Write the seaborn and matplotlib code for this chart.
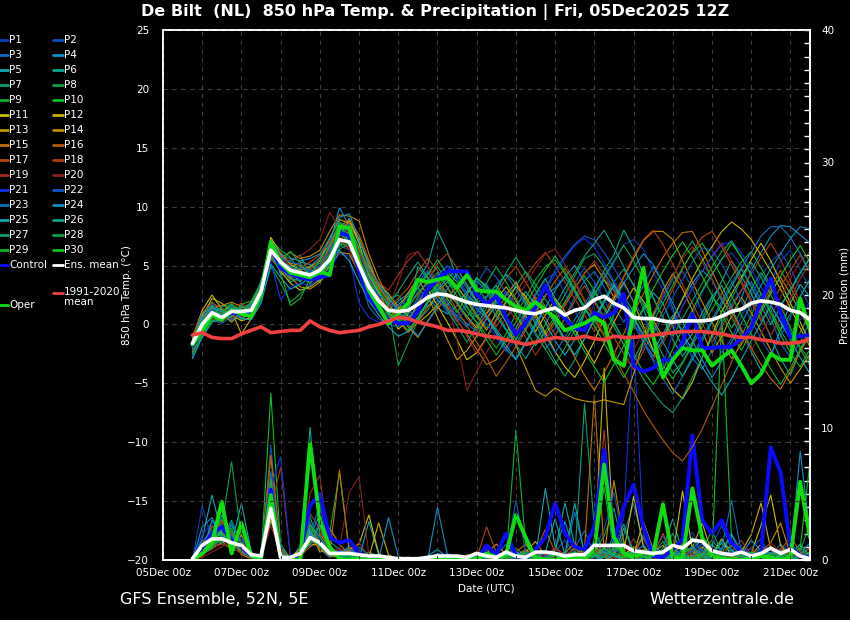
import matplotlib
matplotlib.use("Agg")
import matplotlib.pyplot as plt
from matplotlib.lines import Line2D
import seaborn as sns
import numpy as np
import pandas as pd

sns.set_theme(style="dark")
plt.rcParams['font.family'] = ['DejaVu Sans']

# forecast lead times (6-hourly from 05Dec2025 12Z), x in days since 05Dec 00z
lead_hours = np.arange(6, 385, 6)
days = 0.5 + lead_hours / 24.0

date_labels = ["05Dec 00z", "07Dec 00z", "09Dec 00z", "11Dec 00z", "13Dec 00z",
               "15Dec 00z", "17Dec 00z", "19Dec 00z", "21Dec 00z"]

# ---------------- 850 hPa temperature (°C) ----------------
temp_p01 = [-2.2, -0.5, 0.8, 0.3, 1.4, 0.9, 1.0, 3.1, 6.0, 5.6, 4.1, 3.8, 4.4, 5.0, 6.2, 7.8,
            7.4, 4.6, 2.5, 1.1, 0.4, 0.2, 1.5, 2.8, 3.4, 2.2, 1.0, 0.2, 1.6, 2.9, 3.5, 2.1,
            0.5, -0.8, 0.6, 2.4, 3.8, 4.4, 2.6, 1.2, -0.5, 1.8, 3.9, 5.2, 6.8, 7.2, 6.4, 4.5,
            2.9, 1.1, -0.6, 0.8, 2.7, 4.2, 5.6, 6.1, 5.0, 3.2, 1.8, 3.5, 5.4, 6.3, 4.7, 2.9]
temp_p02 = [-1.4, 0.6, 1.5, 0.9, 1.0, 1.6, 1.2, 2.5, 6.6, 5.2, 5.0, 4.7, 3.8, 4.2, 5.1, 6.8,
            6.3, 5.5, 3.9, 2.4, 0.9, 0.5, 0.8, 2.0, 3.1, 4.2, 5.0, 4.3, 2.6, 1.5, 0.9, 1.8,
            2.6, 3.4, 2.0, 0.3, -1.2, -0.4, 1.9, 3.5, 4.8, 3.6, 2.2, 0.4, -1.8, -3.1, -2.0, 0.6,
            2.2, 3.8, 4.5, 3.1, 1.0, -0.9, -2.4, -1.2, 0.7, 2.4, 4.1, 5.3, 6.1, 4.8, 3.0, 1.6]
temp_p03 = [-2.6, -0.8, 0.4, 0.1, 0.7, 1.3, 0.9, 2.2, 5.5, 4.8, 3.9, 4.9, 4.6, 4.0, 4.9, 6.6,
            7.9, 6.2, 4.0, 2.6, 1.8, 0.7, 0.2, 0.9, 1.6, 2.0, 1.4, 0.8, 0.1, -0.6, 0.5, 1.9,
            2.8, 1.7, 0.4, -0.9, -2.1, -1.0, 0.6, 2.3, 3.7, 4.5, 3.2, 1.5, 0.2, 1.6, 3.3, 4.9,
            3.6, 1.4, -0.8, -2.9, -3.8, -2.2, 0.1, 1.7, 2.9, 3.6, 2.1, 0.5, -1.6, -2.8, -1.5, 0.3]
temp_p04 = [-1.9, 0.2, 1.2, 1.4, 0.5, 0.8, 1.7, 3.4, 6.9, 4.2, 4.5, 3.6, 4.9, 5.7, 6.8, 9.9,
            8.4, 5.2, 3.0, 1.7, 1.2, 2.0, 2.6, 3.1, 2.2, 1.4, 0.9, 1.6, 2.8, 3.7, 2.9, 1.1,
            -0.4, -1.6, -0.3, 1.2, 2.5, 3.1, 4.0, 2.7, 1.3, 0.2, 1.9, 3.4, 2.0, 0.8, -1.4, -2.7,
            -1.3, 0.4, 2.1, 3.5, 4.6, 3.8, 2.0, 0.9, 2.2, 4.6, 6.1, 7.5, 8.4, 8.3, 7.6, 6.9]
temp_p05 = [-2.3, -0.2, 0.6, 1.1, 1.5, 0.6, 0.9, 2.7, 6.2, 5.9, 4.8, 5.3, 5.1, 4.4, 5.8, 7.5,
            9.0, 7.1, 5.3, 3.3, 2.1, 1.4, 1.8, 3.2, 4.4, 3.6, 2.5, 1.9, 2.7, 3.9, 3.3, 2.0,
            0.6, 1.5, 2.8, 1.7, 0.2, -1.4, -2.6, -1.3, 0.9, 2.6, 3.8, 2.9, 1.6, 0.1, 1.2, 2.7,
            1.8, -0.2, -1.9, -0.8, 1.0, 2.4, 3.3, 1.5, -0.6, -2.3, -3.9, -2.6, -0.4, 1.8, 3.4, 2.3]
temp_p06 = [-1.2, 0.5, 1.3, 0.4, 0.9, 1.4, 1.5, 3.0, 6.8, 5.0, 3.6, 4.0, 3.5, 4.8, 6.0, 8.1,
            7.7, 4.2, 2.1, 1.3, 0.8, 1.7, 2.4, 3.8, 5.1, 8.0, 6.2, 3.9, 2.4, 1.3, 0.6, -0.4,
            -1.5, -0.3, 1.1, 2.6, 3.9, 2.2, 0.8, -0.6, 1.1, 3.0, 4.6, 5.9, 8.0, 6.5, 4.2, 2.3,
            0.6, -1.3, -2.7, -1.5, 0.2, 1.9, 3.7, 5.4, 4.1, 2.6, 0.9, -1.1, -2.9, -4.3, -2.2, -0.8]
temp_p07 = [-1.7, 0.8, 1.9, 1.0, 1.2, 0.4, 1.1, 2.4, 5.8, 5.5, 5.4, 5.9, 4.1, 3.6, 4.5, 6.9,
            7.2, 5.9, 4.4, 3.0, 2.2, 2.5, 1.3, 0.4, 1.2, 2.7, 3.6, 2.9, 1.4, 0.6, 1.7, 3.0,
            4.3, 3.5, 1.8, 0.0, -1.6, -3.1, -4.4, -3.0, -1.2, 0.5, 2.1, 3.6, 4.7, 3.4, 1.3, -0.9,
            -2.6, -4.1, -3.2, -1.6, 0.5, 2.3, 1.4, -0.3, 1.2, 3.0, 4.4, 3.1, 1.7, 2.8, 4.3, 5.6]
temp_p08 = [-2.8, -0.9, 0.3, 0.9, 1.8, 1.0, 0.5, 1.9, 4.9, 3.5, 1.9, 2.6, 3.4, 4.6, 5.6, 6.4,
            6.8, 4.8, 3.6, 2.8, 1.5, -3.5, -1.6, 0.4, 1.9, 3.2, 4.1, 3.0, 2.2, 0.9, -0.3, 0.8,
            2.0, 3.3, 4.5, 3.4, 2.1, 1.0, 2.5, 4.1, 5.6, 6.0, 4.9, 3.5, 2.0, 0.5, -0.8, 0.7,
            2.5, 4.0, 5.8, 7.1, 5.6, 3.9, 2.2, 0.6, -1.0, 0.8, 2.6, 1.3, -0.5, -1.9, -0.7, 1.0]
temp_p09 = [-2.0, 0.0, 1.1, 0.7, 0.6, 1.7, 2.0, 3.6, 7.2, 6.3, 5.7, 4.4, 3.9, 4.5, 5.3, 7.0,
            6.6, 4.9, 3.3, 1.9, 0.3, 0.0, 0.9, 2.3, 3.8, 4.9, 3.7, 2.4, 1.1, 0.2, -0.9, -2.0,
            -0.8, 0.9, 2.3, 3.8, 4.9, 5.5, 4.3, 2.9, 1.5, 0.3, -0.9, 0.8, 2.4, 1.1, -0.4, -2.1,
            -3.5, -4.6, -3.3, -1.8, -0.2, 1.3, 2.6, 4.0, 5.3, 6.2, 4.8, 3.3, 1.6, -0.3, -1.9, -3.1]
temp_p10 = [-1.5, 0.4, 0.9, 1.2, 1.6, 1.2, 0.8, 2.0, 6.4, 5.8, 4.3, 4.1, 4.7, 5.2, 6.5, 8.6,
            8.0, 6.5, 4.6, 2.9, 1.6, 0.9, 0.4, 1.2, 2.4, 3.5, 4.5, 3.6, 2.5, 1.8, 2.4, 3.3,
            2.1, 0.8, -0.5, -1.8, -0.6, 0.7, 1.9, 3.2, 4.1, 2.9, 1.5, 0.1, -1.2, -2.6, -4.0, -5.1,
            -3.8, -2.1, -0.4, 1.2, 2.9, 4.3, 5.5, 6.9, 5.7, 4.2, 2.6, 0.9, -0.9, -2.4, -3.6, -2.1]
temp_p11 = [-1.1, 1.2, 2.5, 1.3, 0.8, 0.3, 0.6, 2.1, 6.1, 4.5, 3.5, 2.9, 3.2, 3.8, 5.6, 7.6,
            8.8, 6.9, 4.2, 2.7, 1.1, -0.4, 0.3, 1.8, 3.0, 1.6, 0.2, -1.3, -3.0, -2.4, -1.1, 0.4,
            1.9, 3.2, 2.4, 0.9, -0.7, -2.3, -3.6, -4.5, -3.1, -1.4, 0.5, 2.2, 3.6, 1.9, -0.1, -2.2,
            -4.0, -5.5, -6.3, -4.9, -2.8, -0.9, 1.1, 2.6, 4.0, 5.5, 6.9, 5.4, 3.6, 1.8, 0.2, -1.6]
temp_p12 = [-1.8, 0.7, 2.2, 1.8, 1.1, -0.8, 0.5, 2.6, 7.4, 6.0, 5.1, 4.6, 4.9, 5.4, 7.3, 8.9,
            8.6, 7.3, 5.0, 3.5, 2.6, 1.5, 0.7, 0.1, 0.8, 1.7, 2.6, 1.8, 0.7, -0.3, 0.9, 2.1,
            3.2, 2.0, 0.7, -0.6, 0.8, 2.2, 1.1, -0.4, -1.9, -3.3, -1.6, 0.2, 1.7, 3.1, 2.0, 0.4,
            -1.1, 0.5, 2.2, 3.9, 5.4, 6.6, 7.9, 8.7, 8.1, 7.2, 5.9, 4.5, 3.0, 1.4, -0.3, -1.9]
temp_p13 = [-2.4, 0.3, 1.6, 0.8, 0.2, 1.0, 1.4, 2.9, 6.5, 5.4, 4.0, 3.2, 3.0, 3.6, 5.0, 6.1,
            6.0, 4.4, 2.8, 1.4, 0.6, 1.3, 2.7, 3.9, 2.4, 0.6, -1.3, -3.0, -2.2, -1.0, 0.5, 1.6,
            0.2, -1.8, -3.7, -5.6, -6.1, -5.4, -5.9, -6.3, -6.5, -6.6, -6.4, -6.6, -6.8, -4.2, -1.5, 0.8,
            2.9, 4.3, 3.0, 1.2, -0.6, -2.4, -1.0, 0.7, 2.3, 1.0, -0.6, -2.2, -3.7, -5.0, -3.8, -2.5]
temp_p14 = [-1.3, 0.9, 1.4, 1.6, 1.9, 1.5, 1.1, 2.3, 7.0, 5.7, 6.1, 5.6, 5.8, 6.3, 7.9, 9.3,
            9.2, 8.8, 6.0, 3.9, 2.3, 1.2, -0.2, -1.1, 0.3, 1.4, 2.2, 3.3, 2.0, 0.7, -0.5, 1.0,
            2.5, 3.6, 2.1, 0.6, -0.9, 0.4, 1.6, 3.0, 4.4, 5.1, 3.8, 2.3, 4.0, 5.6, 7.1, 7.9,
            7.9, 7.2, 5.4, 3.6, 1.9, 0.2, -1.4, -2.9, -1.7, -0.2, 1.3, 2.8, 4.0, 2.6, 1.1, -0.5]
temp_p15 = [-2.1, -0.3, 1.0, 0.5, 1.3, 0.7, 0.8, 2.4, 6.7, 6.1, 5.2, 5.0, 4.3, 4.9, 6.6, 8.3,
            8.9, 7.6, 5.5, 3.2, 1.9, 0.3, -0.7, 0.2, 1.5, 2.4, 1.5, 0.3, -0.8, -2.1, -3.4, -3.0,
            -2.0, -0.7, 0.9, 2.3, 1.4, 0.1, -1.3, -2.8, -4.3, -5.6, -4.1, -2.5, -0.8, 1.0, 2.6, 4.2,
            5.7, 6.9, 7.8, 7.9, 6.3, 4.5, 2.8, 1.1, -0.4, -2.0, -3.4, -4.6, -5.5, -4.0, -2.3, -0.9]
temp_p16 = [-1.6, 0.1, 0.7, 1.3, 1.0, 0.9, 1.6, 3.2, 6.3, 5.1, 4.7, 4.2, 4.0, 4.7, 6.4, 8.0,
            8.7, 6.3, 4.8, 3.1, 2.0, 1.6, 1.0, 1.9, 2.9, 3.8, 2.6, 1.2, -0.1, -1.5, -2.8, -4.4,
            -3.2, -1.9, -0.5, 1.0, 2.4, 3.7, 4.8, 3.5, 2.0, 0.5, -1.0, -2.6, -4.2, -5.7, -7.3, -8.6,
            -9.8, -10.9, -11.6, -10.4, -8.9, -7.0, -5.1, -3.2, -1.4, 0.2, 1.7, 3.1, 4.6, 3.2, 1.5, -0.1]
temp_p17 = [-1.0, 1.0, 1.8, 1.4, 0.6, 1.1, 1.3, 2.6, 5.9, 4.9, 4.4, 4.8, 5.3, 5.9, 7.0, 8.4,
            7.8, 5.7, 3.8, 2.3, 1.4, 2.2, 3.1, 4.5, 5.6, 4.6, 3.1, 1.7, 0.5, -0.5, 1.0, 2.6,
            3.9, 4.9, 3.6, 2.1, 0.6, -0.9, 0.5, 2.0, 3.3, 1.9, 0.4, -1.1, -2.5, -3.8, -2.3, -0.6,
            1.2, 3.0, 4.7, 6.2, 7.4, 7.9, 6.6, 5.0, 3.5, 1.9, 0.3, 1.6, 3.2, 4.6, 5.9, 4.4]
temp_p18 = [-2.5, -0.6, 0.5, 0.2, 1.3, 1.8, 1.2, 2.1, 5.6, 4.6, 3.8, 4.3, 4.6, 5.6, 6.0, 7.1,
            6.4, 4.3, 2.4, 1.5, 0.6, 1.0, 1.6, 2.5, 3.7, 5.2, 6.0, 4.8, 3.3, 2.0, 0.8, -0.2,
            1.1, 2.7, 4.0, 5.2, 6.1, 5.0, 3.6, 2.2, 0.8, -0.6, 0.9, 2.5, 4.1, 5.8, 7.2, 8.0,
            6.8, 5.1, 3.4, 1.8, 0.1, -1.5, -0.2, 1.4, 2.9, 4.3, 5.7, 6.9, 5.5, 3.7, 1.9, 0.2]
temp_p19 = [-1.9, 0.3, 1.2, 0.6, 0.4, 1.3, 1.9, 3.3, 6.8, 5.8, 4.9, 3.9, 3.7, 4.3, 5.9, 7.3,
            7.5, 6.0, 4.5, 3.6, 2.9, 4.2, 5.4, 6.2, 4.9, 3.3, 1.8, 0.4, -1.0, -2.5, -1.2, 0.3,
            1.6, 0.4, -1.1, -2.6, -1.3, 0.2, 1.7, 3.0, 4.3, 5.4, 4.2, 2.8, 1.4, 0.0, -1.4, -2.9,
            -1.6, 0.0, 1.5, 3.0, 4.5, 5.8, 6.9, 5.4, 3.7, 2.1, 0.5, -0.9, 0.6, 2.2, 3.9, 5.2]
temp_p20 = [-2.2, 0.0, 0.9, 1.0, 0.9, 0.6, 1.4, 2.8, 6.0, 5.3, 5.5, 5.8, 6.4, 7.2, 9.5, 8.2,
            6.5, 4.9, 3.1, 2.0, 1.3, 3.6, 5.9, 6.2, 5.0, 3.7, 2.1, -1.4, -5.6, -4.0, -2.4, -0.9,
            0.6, 2.0, 3.4, 4.8, 6.0, 6.4, 5.1, 3.7, 2.2, 0.7, -0.8, -2.3, -3.7, -2.2, -0.6, 1.0,
            2.5, 4.1, 5.6, 6.6, 5.3, 3.8, 2.3, 0.8, -0.7, -2.2, -0.8, 0.7, 2.3, 3.9, 5.3, 6.2]
temp_p21 = [-2.7, -0.4, 0.6, 0.9, 1.0, 1.2, 0.7, 2.0, 5.3, 2.1, 3.2, 3.5, 3.3, 3.9, 4.7, 6.0,
            5.8, 1.8, 0.6, 0.2, 0.3, 0.6, 1.2, 2.1, 3.2, 4.1, 4.9, 3.8, 2.5, 1.3, 0.1, -1.1,
            -2.3, -1.2, 0.2, 1.7, 3.0, 4.2, 5.6, 6.7, 7.3, 6.6, 5.2, 3.7, 2.2, 0.5, -1.4, -3.0,
            -3.5, -0.7, 1.6, 3.1, 4.5, 5.7, 6.8, 7.0, 6.1, 4.7, 3.2, 1.7, 0.3, -1.1, 0.4, 2.0]
temp_p22 = [-1.5, 0.5, 1.7, 0.8, 1.5, 0.9, 1.0, 2.9, 6.6, 5.6, 5.3, 5.1, 4.5, 5.0, 6.3, 7.9,
            8.1, 5.4, 3.4, 2.5, 1.8, 1.5, 2.2, 3.5, 4.6, 3.1, 1.9, 0.7, 1.8, 3.4, 4.8, 4.0,
            2.7, 1.3, 0.0, 1.5, 3.0, 4.6, 5.8, 6.8, 7.5, 7.2, 6.1, 4.8, 3.4, 2.0, 0.6, -0.8,
            0.7, 2.3, 3.8, 5.3, 6.5, 6.3, 5.1, 3.6, 2.0, 0.4, -1.2, -2.6, -1.0, 0.6, 2.3, 3.9]
temp_p23 = [-2.0, 0.1, 1.3, 0.5, 0.9, 1.5, 1.6, 3.0, 6.4, 4.9, 4.6, 4.8, 4.4, 4.6, 5.4, 7.4,
            8.5, 4.3, 1.5, 0.5, 0.0, -0.2, 0.6, 1.4, 2.6, 2.1, 1.3, 0.6, -0.2, 1.0, 2.3, 3.4,
            4.2, 3.0, 1.6, 0.3, -1.0, -2.4, -1.1, 0.4, 1.7, 3.2, 4.4, 3.1, 1.6, 0.1, -1.5, -3.1,
            -4.6, -5.9, -4.4, -2.7, -1.1, 0.4, 2.0, 3.5, 4.8, 6.1, 7.5, 8.3, 8.3, 7.4, 6.0, 4.5]
temp_p24 = [-1.7, 0.6, 1.4, 1.1, 0.3, 1.0, 1.8, 3.5, 7.1, 5.9, 5.6, 5.4, 5.6, 6.0, 7.3, 9.1,
            9.4, 7.2, 4.9, 3.4, 2.4, 1.1, 0.0, -1.0, 0.2, 1.6, 3.0, 4.3, 3.1, 1.9, 0.6, -0.8,
            -2.1, -3.0, -1.6, -0.1, 1.4, 2.9, 4.1, 5.0, 3.6, 2.1, 0.6, 1.9, 3.5, 4.8, 6.0, 5.1,
            3.5, 1.8, 0.2, -1.4, -3.0, -4.5, -3.1, -1.5, 0.1, 1.7, 3.3, 4.7, 6.0, 7.3, 8.3, 8.1]
temp_p25 = [-2.9, -1.1, 0.2, 0.4, 1.2, 0.5, 0.4, 1.8, 5.1, 4.0, 3.0, 3.4, 4.0, 4.4, 5.2, 6.3,
            5.4, 3.6, 2.0, 0.8, -0.2, -1.0, -0.6, 0.5, 1.8, 2.9, 3.9, 4.7, 3.4, 2.0, 0.7, -0.6,
            -1.8, -2.9, -1.5, 0.1, 1.5, 0.2, -1.2, -2.6, -1.2, 0.4, 1.9, 3.3, 2.0, 0.6, -0.9, -2.3,
            -0.8, 0.8, -0.7, -2.2, -3.6, -4.9, -6.0, -4.6, -3.0, -1.4, 0.1, 1.6, 0.2, -1.3, -2.8, -4.2]
temp_p26 = [-1.4, 0.9, 1.6, 0.6, 1.4, 1.3, 0.6, 2.2, 6.2, 5.3, 4.9, 4.5, 4.3, 4.8, 5.7, 7.7,
            7.1, 5.1, 3.5, 2.1, 0.9, 0.3, 1.0, 4.9, 3.9, 2.8, 1.6, 2.9, 4.4, 3.3, 2.0, 0.7,
            -0.5, -1.7, -2.9, -1.5, 0.0, 1.6, 3.1, 4.4, 5.8, 6.9, 8.0, 6.5, 4.9, 3.3, 1.7, 0.1,
            -1.5, -3.0, -4.4, -3.0, -1.4, 0.2, 1.7, 3.2, 4.7, 3.2, 1.6, 0.0, 1.5, 3.0, 4.4, 5.7]
temp_p27 = [-2.1, -0.1, 0.8, 1.5, 1.7, 0.8, 1.3, 2.7, 5.7, 4.7, 3.9, 3.7, 4.2, 5.5, 6.7, 8.7,
            8.2, 6.6, 4.3, 2.8, 1.7, 2.8, 4.1, 5.3, 4.0, 2.6, 1.2, -0.1, -1.5, -0.1, 1.4, 2.9,
            4.4, 5.7, 4.4, 2.9, 1.5, 0.0, -1.4, -0.1, 1.4, 2.8, 1.3, -0.2, -1.7, -3.2, -4.6, -5.8,
            -6.8, -7.5, -6.2, -4.5, -2.8, -1.1, 0.6, 2.2, 3.8, 5.3, 4.0, 2.5, 0.9, -0.6, -2.1, -3.5]
temp_p28 = [-1.8, 0.4, 1.0, 1.3, 0.7, 1.1, 1.5, 3.7, 6.5, 5.5, 6.2, 5.2, 4.0, 4.1, 5.5, 8.2,
            7.6, 5.6, 3.7, 2.2, 0.7, 0.1, 1.4, 2.7, 3.5, 4.4, 3.2, 1.9, 0.6, 2.0, 3.5, 4.9,
            3.6, 2.2, 0.8, -0.7, -2.1, -3.4, -2.0, -0.5, 1.0, 2.5, 4.0, 5.4, 6.7, 5.4, 3.8, 2.2,
            0.6, -1.0, 0.5, 2.0, 3.5, 4.9, 6.2, 7.1, 5.7, 4.2, 2.6, 1.0, -0.5, 0.9, 2.4, 3.8]
temp_p29 = [-2.5, -0.7, 0.3, 0.6, 1.1, 1.6, 1.0, 2.3, 5.9, 4.4, 1.6, 2.2, 3.9, 4.3, 5.0, 6.7,
            6.9, 4.5, 2.7, 1.2, 0.1, 0.8, 1.9, 3.1, 4.2, 5.5, 4.3, 2.9, 1.5, 0.1, -1.3, -2.6,
            -1.3, 0.2, 1.7, 3.2, 4.6, 5.8, 4.5, 3.0, 1.5, -0.1, -1.6, -3.1, -4.5, -3.0, -1.4, 0.2,
            1.8, 3.3, 4.8, 6.1, 6.9, 5.6, 4.0, 2.4, 0.8, -0.8, -2.3, -3.8, -5.1, -3.7, -2.1, -0.5]
temp_p30 = [-1.2, 0.2, 1.1, 0.9, 1.3, 1.0, 1.9, 3.1, 6.7, 5.2, 4.2, 4.0, 3.6, 4.1, 5.9, 7.6,
            7.3, 5.3, 3.3, 1.9, 1.0, 0.4, -0.5, 0.6, 2.0, 3.4, 2.2, 1.0, 2.5, 4.0, 3.1, 1.6,
            0.2, -1.3, 0.2, 1.8, 3.3, 2.0, 0.6, -0.8, -2.3, -3.6, -4.9, -3.4, -1.8, -0.2, 1.4, 3.0,
            4.5, 5.9, 7.0, 5.7, 4.1, 2.5, 0.9, -0.7, -2.2, -0.6, 1.0, 2.6, 4.1, 5.5, 6.7, 5.3]

temp_control = [-1.8, -0.4, 1.0, 0.6, 1.0, 0.9, 1.0, 2.6, 6.5, 4.8, 4.3, 4.0, 3.8, 4.0, 4.2, 7.8,
                7.5, 4.5, 2.3, 1.3, 0.4, 0.1, 0.1, 1.1, 3.0, 3.8, 4.5, 4.5, 4.5, 2.6, 1.7, 2.4,
                0.6, -0.9, 0.1, 1.5, 3.3, 1.5, 0.5, -0.3, -0.5, 1.0, 0.6, 1.0, 2.6, -3.5, -4.0, -3.7,
                -3.0, -3.0, -1.5, 0.9, -2.0, -2.0, -1.9, -1.9, -1.2, -0.3, 2.0, 3.9, 1.0, -1.1, -1.0, -0.9]
temp_oper = [-1.7, -0.5, 0.8, 0.4, 1.2, 0.9, 0.7, 2.6, 7.0, 5.2, 4.4, 4.2, 4.0, 4.5, 4.2, 8.3,
             8.2, 5.2, 2.9, 1.5, 0.1, 0.9, 1.8, 3.8, 3.6, 3.8, 4.0, 3.1, 4.2, 2.9, 2.8, 2.8,
             2.1, 1.5, 1.2, 1.9, 1.2, 0.6, -0.5, -0.2, 0.1, 0.6, 0.1, -3.0, -3.5, 1.0, 4.8, -1.0,
             -4.5, -3.0, -2.0, -2.2, -2.2, -3.5, -2.8, -2.2, -3.5, -5.0, -4.2, -2.5, -3.0, -3.0, 2.2, -0.5]
temp_ens_mean = [-1.6, 0.0, 1.0, 0.6, 1.1, 1.1, 1.2, 2.8, 6.3, 5.3, 4.6, 4.4, 4.2, 4.6, 5.5, 7.2,
                 7.0, 5.0, 3.2, 2.0, 1.2, 1.1, 1.2, 1.7, 2.3, 2.6, 2.5, 2.2, 1.9, 1.7, 1.6, 1.5,
                 1.4, 1.2, 1.0, 0.9, 1.2, 1.4, 0.8, 1.2, 1.4, 2.1, 2.4, 1.8, 1.4, 0.6, 0.5, 0.5,
                 0.3, 0.2, 0.3, 0.3, 0.3, 0.4, 0.7, 1.1, 1.3, 1.8, 2.0, 1.9, 1.7, 1.2, 1.0, 0.4]
temp_clim = [-0.9, -0.7, -1.1, -1.2, -1.2, -0.8, -0.5, -0.2, -0.7, -0.6, -0.5, -0.5, 0.3, -0.2, -0.5, -0.7,
             -0.6, -0.5, -0.2, 0.0, 0.3, 0.6, 0.5, 0.2, 0.0, -0.2, -0.5, -0.5, -0.6, -0.8, -1.0, -1.1,
             -1.3, -1.5, -1.7, -1.5, -1.3, -1.1, -1.2, -1.2, -1.0, -1.2, -1.3, -1.0, -1.1, -1.1, -1.0, -0.9,
             -0.8, -0.7, -0.6, -0.6, -0.6, -0.7, -0.8, -1.0, -1.1, -1.1, -1.3, -1.4, -1.6, -1.6, -1.5, -1.2]

# ---------------- 6-hourly precipitation (mm) ----------------
prcp_p01 = [0, 4.1, 1.5, 2.2, 1.0, 0.6, 0.2, 0, 3.5, 0.8, 0, 0.4, 2.1, 1.3, 0.6, 0.9,
            0.3, 0.5, 0.2, 0, 0, 0, 0.1, 0, 0, 0.2, 0, 0, 0, 0.4, 0.2, 0,
            0.1, 0.6, 0.3, 0, 0.4, 0.9, 0.2, 0, 0, 0.3, 1.2, 0.5, 0, 0.8, 1.6, 0.4,
            0, 0.2, 0.9, 2.1, 0.7, 0, 0, 0.3, 1.1, 0.4, 0, 0, 0.6, 1.4, 0.3, 0]
prcp_p02 = [0, 1.2, 2.4, 3.1, 1.8, 0.9, 0.1, 0, 8.7, 0.4, 0, 0.6, 1.6, 2.2, 0.7, 0.3,
            1.1, 0.2, 0, 0, 0.1, 0, 0, 0, 0, 0, 0.5, 0.2, 0, 0, 0.8, 0.1,
            0.3, 0.5, 0, 0, 0.2, 0.6, 1.5, 0.4, 0, 0.9, 2.3, 5.1, 1.2, 0.2, 0, 0.6,
            1.8, 0.4, 0, 0, 0.3, 1.1, 2.6, 0.8, 0, 0, 0.2, 0.9, 0.3, 0, 0, 0.4]
prcp_p03 = [0.1, 0.6, 1.9, 2.7, 1.4, 1.2, 0.4, 0.1, 4.4, 0.2, 0, 1.1, 2.9, 0.8, 0.2, 0.4,
            0.6, 1.0, 0.3, 0, 0, 0.1, 0, 0, 0, 0.3, 0.2, 0, 0, 0, 0, 0.4,
            1.2, 0.3, 0, 0.2, 0.4, 0.1, 0, 0.9, 2.2, 0.4, 0, 0.3, 1.9, 4.3, 1.2, 0,
            0, 0.6, 1.4, 0.2, 0, 0, 0.5, 2.0, 0.6, 0, 0, 0.3, 1.2, 0.4, 0, 0]
prcp_p04 = [0, 2.5, 3.2, 1.8, 2.6, 1.4, 0.3, 0, 2.9, 1.2, 0.1, 0.2, 1.8, 3.4, 0.9, 0.5,
            0.2, 0.3, 0.6, 0.1, 0, 0, 0, 0.2, 0.1, 0.5, 0.3, 0, 0, 0, 0.1, 0,
            0, 0.2, 0.7, 0.3, 0, 0.8, 2.9, 0.6, 0.3, 0.7, 0.4, 1.8, 0.6, 0, 0.4, 1.1,
            0.5, 0, 0, 0.8, 1.6, 0.3, 0, 0, 0.4, 1.5, 0.7, 0, 0, 0.2, 8.2, 2.0]
prcp_p05 = [0, 1.6, 4.9, 2.0, 1.2, 4.3, 0.6, 0, 3.8, 0.5, 0, 0.3, 1.4, 2.6, 0.8, 0.2,
            0.4, 0.1, 2.9, 0.4, 0, 0.2, 0, 0, 0.3, 0.8, 0.2, 0, 0, 0, 0.4, 0.1,
            0, 0.3, 0.5, 0.2, 5.4, 1.0, 0.2, 0, 0.2, 1.4, 0.5, 0, 0.3, 0.9, 0.2, 0,
            0, 0.4, 1.2, 0.6, 0, 0, 0.8, 1.9, 0.5, 0, 0, 0.3, 0.8, 0.2, 0, 0]
prcp_p06 = [0, 0.4, 1.0, 3.4, 2.1, 0.8, 0.1, 0, 5.6, 0.7, 0.1, 0.6, 10.0, 1.9, 0.4, 0.6,
            0.9, 0.2, 0, 0, 0, 0, 0.1, 0, 0, 0, 0, 0.2, 0.1, 0, 0, 0.3,
            0.6, 0.2, 0, 0.1, 0.3, 0.7, 4.3, 1.1, 0.4, 0, 0.2, 1.0, 2.7, 0.6, 0, 0.2,
            0.9, 3.1, 0.6, 0, 0, 0.4, 1.3, 0.5, 0, 0.2, 0.6, 0, 0, 0.3, 1.2, 0.3]
prcp_p07 = [0, 0.9, 2.1, 1.5, 3.0, 1.1, 0.5, 0, 6.2, 0.3, 0, 0.2, 1.2, 1.8, 1.4, 0.8,
            0.5, 0.4, 0.2, 0, 0, 0, 0, 0.1, 0, 0.2, 0.1, 0, 0.3, 0.2, 0, 0,
            0, 0.1, 0.4, 0.2, 0, 0.3, 0.6, 0.2, 11.8, 2.4, 0.5, 0, 0.3, 0.9, 0.4, 0,
            0.2, 0.8, 0.3, 0, 0.5, 1.5, 0.6, 0, 0, 0.4, 0.9, 0.2, 0, 0, 0.3, 0.6]
prcp_p08 = [0, 0.3, 1.3, 2.6, 7.4, 1.6, 0.2, 0, 5.1, 0.6, 0, 0.4, 3.3, 1.0, 0.5, 0.2,
            0.3, 0.1, 0.6, 0.3, 0, 0, 0, 0, 0, 0.1, 0, 0, 0, 0, 0.2, 0,
            0.4, 0.9, 0.3, 0, 0.1, 0.4, 0.2, 0, 0, 0.6, 1.8, 3.9, 0.7, 0.1, 0, 0.5,
            1.4, 0.3, 0, 0.2, 0.8, 2.2, 0.6, 0, 0, 0, 0.3, 1.0, 0.4, 0, 0.7, 2.7]
prcp_p09 = [0, 1.0, 1.8, 2.3, 1.1, 0.9, 0.3, 0, 4.8, 0.2, 0, 0.3, 2.4, 1.6, 2.0, 6.6,
            0.6, 0.3, 0, 0, 0, 0.1, 0, 0, 0, 0.4, 0.1, 0, 0, 0.2, 0.3, 0,
            0.2, 9.8, 1.1, 0.3, 0, 0, 0.4, 0.2, 0, 0.3, 0.8, 0.2, 0, 0.5, 1.9, 0.6,
            0, 0, 0.4, 1.7, 0.5, 0, 0, 0.2, 0.9, 0.3, 0, 0, 0.2, 0.8, 0.4, 0]
prcp_p10 = [0, 0.7, 1.1, 1.9, 2.4, 0.5, 0.1, 0, 12.6, 1.0, 0, 0.1, 1.5, 2.5, 0.3, 0.4,
            0.2, 0.1, 0, 0, 0, 0, 0, 0, 0, 0, 0.2, 0.1, 0, 0, 0, 0.1,
            0.3, 0.2, 0, 0, 0.2, 0.5, 0.3, 0, 0, 0.4, 0.2, 0.6, 1.3, 0.4, 0.8, 0.2,
            0, 0.6, 1.1, 0.3, 0, 0.2, 18.5, 1.4, 0.5, 0.2, 0, 0.3, 0.6, 0.1, 0, 0]
prcp_p11 = [0, 0.5, 0.9, 1.3, 1.7, 0.8, 0.2, 0, 3.1, 0.4, 0.1, 0.9, 1.2, 1.1, 0.4, 0.3,
            0.8, 1.2, 3.4, 0.5, 0, 0, 0, 0, 0, 0, 0.1, 0, 0.2, 0.3, 0, 0,
            0.6, 0.3, 0.1, 0, 0.2, 0.4, 0.2, 0, 0.4, 1.1, 0.3, 0, 0.6, 4.8, 1.0, 0.2,
            0, 0.3, 5.2, 0.8, 0, 0.4, 1.6, 0.3, 0, 0.5, 2.6, 4.9, 1.1, 0.2, 0, 0]
prcp_p12 = [0, 0.8, 1.4, 2.1, 0.9, 1.3, 0.4, 0, 6.1, 0.5, 0, 0.2, 2.2, 0.6, 0.9, 0.5,
            0.3, 0.6, 0.2, 2.8, 0.4, 0, 0, 0.1, 0, 0.2, 0, 0, 0.3, 0.6, 0.1, 0,
            0.2, 0.4, 0, 0.2, 0.1, 0, 0.3, 0.9, 0.2, 0.6, 14.5, 1.2, 0, 0.4, 2.9, 0.8,
            0.3, 0, 0.2, 0.9, 2.8, 0.5, 0, 0, 0.6, 1.9, 4.3, 0.8, 0, 0, 0.2, 0.4]
prcp_p13 = [0, 0.4, 1.1, 1.6, 2.0, 0.7, 0.2, 0, 4.0, 0.3, 0, 0.5, 1.7, 0.9, 0.3, 0.2,
            0.5, 0.1, 0.4, 0.2, 0, 0, 0, 0, 0, 0.1, 0.2, 0, 0, 0.3, 0.5, 1.2,
            0.4, 0.2, 0.6, 1.4, 0.3, 0, 0.2, 0.5, 0.3, 0.8, 0.2, 0, 0.4, 1.0, 0.3, 0.6,
            1.1, 0.2, 0, 0, 0.3, 0.8, 0.2, 0, 0, 0.4, 1.2, 0.3, 0, 0, 0.5, 0.2]
prcp_p14 = [0, 1.3, 2.0, 1.4, 0.8, 1.9, 0.3, 0, 7.9, 0.9, 0, 0.3, 1.0, 1.5, 2.4, 1.2,
            0.4, 0.3, 0.1, 0, 0, 0, 0.1, 0, 0.2, 0, 0, 0, 0.1, 0.4, 0.2, 0,
            0, 0.3, 0.8, 0.2, 0, 0.1, 0.5, 1.3, 0.4, 0.2, 0.3, 6.0, 1.4, 0.2, 0, 0.3,
            0.6, 0.1, 0, 0.4, 1.0, 0.3, 0, 0, 0.2, 0.3, 0.6, 1.3, 2.8, 0.4, 0, 0.1]
prcp_p15 = [0, 0.6, 1.5, 3.0, 1.6, 0.4, 0.1, 0, 5.4, 0.2, 0, 0.8, 1.3, 2.0, 0.4, 6.8,
            0.7, 0.2, 0, 0, 0, 0, 0, 0, 0, 0.1, 0, 0, 0.4, 0.3, 0.9, 0.5,
            0.3, 0.6, 1.2, 0.4, 0.1, 0, 0.2, 0.4, 0.8, 12.4, 0.6, 0.2, 0, 0.5, 1.7, 0.3,
            0, 0.4, 0.7, 0.1, 0, 0.6, 0.3, 0, 0, 0.2, 0.5, 0.8, 0.3, 0, 0.4, 0.9]
prcp_p16 = [0, 0.9, 2.6, 2.2, 1.3, 0.6, 0.2, 0, 7.9, 0.6, 0.1, 0.4, 1.9, 0.8, 0.7, 0.4,
            0.9, 0.3, 0.2, 0.4, 0, 0, 0, 0, 0, 0, 0, 0.3, 0.2, 0, 0, 0.2,
            0.5, 0.2, 0.4, 0.7, 2.3, 0.6, 0.3, 0, 0.2, 0.7, 0.4, 0.9, 0.3, 0, 0.4, 0.2,
            0.1, 0.5, 1.3, 0.4, 0, 0, 0.6, 1.1, 0.3, 0, 0, 0.2, 0.7, 1.8, 0.6, 0]
prcp_p17 = [0, 0.5, 0.8, 1.7, 1.1, 1.0, 0.6, 0, 3.3, 0.4, 0, 0.6, 2.6, 1.4, 0.3, 0.5,
            0.2, 0.6, 0.1, 0, 0, 0, 0.1, 0, 0, 0.4, 0.2, 0, 0, 0.1, 2.5, 0.6,
            0.2, 0, 0.3, 0.5, 0.2, 0.9, 0.4, 0.1, 0, 0.4, 1.2, 0.6, 0.2, 0.3, 0.8, 0.4,
            2.0, 0.5, 0, 0.2, 0.6, 0.3, 0, 0.4, 0.8, 0.2, 0, 0, 0.3, 0.6, 0.2, 0]
prcp_p18 = [0, 0.7, 1.7, 2.9, 2.0, 1.5, 0.3, 0, 4.6, 0.8, 0, 0.3, 3.5, 2.4, 0.6, 0.3,
            0.4, 0.2, 0, 0, 0.1, 0, 0, 0, 0, 0, 0.3, 0, 0, 0, 0.2, 0,
            0.1, 0.4, 0.2, 0, 0.3, 0.2, 0, 0.4, 0.6, 0.3, 9.8, 0.9, 0.2, 0, 0.4, 0.7,
            0.2, 0, 0.3, 0.8, 0.3, 0, 0, 0.2, 0.4, 0.9, 0.3, 0, 0, 0.2, 0.5, 0.3]
prcp_p19 = [0, 0.3, 1.0, 1.2, 0.9, 0.5, 0.2, 0, 3.9, 7.0, 0.2, 0.4, 5.0, 6.4, 0.5, 0.8,
            0.6, 1.3, 0.2, 0, 0, 0, 0, 0, 0, 0.2, 0, 0, 0.2, 0.1, 0, 0.3,
            0.5, 0.2, 0, 0, 0.4, 0.9, 0.3, 0, 0.2, 0.6, 0.3, 0, 0.5, 1.6, 0.4, 0.1,
            0, 0.3, 0.8, 0.4, 0, 0, 0.2, 0.6, 1.5, 0.4, 0, 0.3, 0.9, 0.2, 0, 0]
prcp_p20 = [0, 0.2, 0.6, 1.0, 1.4, 0.8, 0.1, 0, 2.6, 0.5, 0, 0.2, 1.1, 1.9, 0.6, 0.9,
            5.1, 6.3, 0.4, 0, 0, 0, 0, 0, 0, 0, 0.1, 0.2, 0, 0, 0.3, 0.1,
            0, 0.3, 0.2, 0.6, 0.2, 0, 0.4, 0.8, 0.3, 0.2, 0.6, 0.2, 0, 0.3, 0.7, 0.2,
            0, 0.4, 0.2, 0, 0.3, 0.9, 0.4, 0, 0.2, 0, 0.5, 1.3, 0.6, 0, 0, 0.2]
prcp_p21 = [0, 1.9, 2.8, 2.2, 1.5, 1.7, 0.5, 0, 5.5, 7.8, 0.3, 0.2, 2.8, 1.6, 0.5, 0.7,
            0.4, 0.2, 0, 0, 0.2, 0, 0, 0, 0.1, 0, 0, 0, 0, 0.2, 0.3, 0,
            0.2, 0.7, 0.2, 0, 0.3, 0.5, 0.2, 0.6, 0.3, 1.5, 0.7, 0.4, 3.2, 17.0, 1.8, 0.4,
            0, 0.2, 0.9, 1.5, 0.5, 0, 0.3, 0.6, 0.2, 0, 0.4, 0.8, 0.3, 0, 0.2, 0.4]
prcp_p22 = [0, 0.8, 1.3, 2.5, 1.8, 1.1, 0.4, 0, 3.6, 0.4, 0, 0.7, 1.9, 4.2, 0.8, 0.2,
            0.3, 0.1, 0.2, 0, 0, 0, 0, 0.1, 0, 0.1, 0, 0, 0.3, 0.2, 0, 0,
            0.3, 4.5, 0.6, 0.2, 0, 0.3, 0.2, 0.1, 0.6, 0.2, 0.5, 1.3, 0.6, 0.2, 0, 0.3,
            0.5, 0, 0.2, 0.7, 1.2, 0.3, 0, 0.5, 0.3, 0.9, 1.6, 0.3, 0, 0.2, 0.4, 0]
prcp_p23 = [0, 1.4, 2.2, 1.2, 2.8, 1.3, 0.2, 0, 6.7, 0.4, 0, 0.5, 1.1, 3.0, 0.7, 0.6,
            0.8, 0.4, 0.2, 0, 0, 0, 0, 0, 0.2, 0, 0.1, 0, 0, 0, 0.2, 0.4,
            0, 0.2, 0.3, 0.2, 0.6, 0.4, 0.2, 3.6, 0.5, 0, 0.3, 0.8, 0.4, 0, 0.2, 1.0,
            0.4, 0.2, 0, 0.3, 0.8, 0.2, 0.9, 4.5, 0.6, 0, 0, 0.2, 0.5, 0.3, 0, 0]
prcp_p24 = [0, 0.6, 3.0, 1.9, 1.0, 2.4, 0.2, 0, 4.2, 0.5, 0, 0.2, 2.0, 1.2, 0.6, 0.3,
            0.3, 0.5, 0.2, 0, 3.2, 0.3, 0, 0, 0, 4.0, 0.4, 0, 0, 0.1, 0, 0,
            0.3, 0.4, 0.1, 0, 0.2, 0.6, 0.3, 0.2, 0.2, 0.4, 0.9, 0.3, 0, 0.5, 1.1, 0.3,
            0, 0.3, 0.5, 1.0, 0.4, 0, 0.2, 0.8, 0.2, 0, 0.3, 0.6, 0.2, 0, 0.5, 1.3]
prcp_p25 = [0, 1.1, 1.6, 2.0, 1.3, 0.9, 0.3, 0, 4.7, 0.3, 0.1, 0.6, 2.3, 1.0, 0.4, 0.3,
            0.2, 0.1, 0, 0, 0, 0.2, 0, 0, 0, 0.3, 0, 0, 0, 0, 0, 0,
            0.2, 0.6, 0.3, 0.2, 0.6, 3.1, 0.4, 4.3, 0.4, 0.2, 0.6, 0.3, 0.2, 0.7, 0.3, 0,
            0.2, 0.6, 0.3, 0, 0.4, 1.2, 0.3, 0, 0, 0.4, 0.2, 0, 0.3, 0.8, 0.2, 0.3]
prcp_p26 = [0, 0.7, 1.4, 2.3, 1.7, 0.6, 0.2, 0, 3.7, 0.6, 0, 0.2, 1.6, 1.4, 0.5, 0.2,
            0.5, 0.3, 0.1, 0, 0, 0, 0.2, 0, 0, 0, 0, 0.1, 0, 0.3, 0.1, 0,
            0.4, 0.2, 0.5, 0.3, 0.1, 0, 0.3, 0.2, 0.5, 0.3, 0, 0.4, 2.4, 0.6, 0.3, 0.2,
            0.3, 0.9, 0.4, 0, 0.2, 0.3, 1.5, 0.7, 0.2, 0.5, 0.2, 0, 0, 0.3, 0.9, 0.2]
prcp_p27 = [0, 0.4, 0.9, 1.8, 2.2, 1.2, 0.4, 0, 5.0, 0.2, 0, 0.3, 2.6, 1.8, 0.6, 0.4,
            0.3, 0.2, 0, 0, 0, 0, 0, 0.1, 0, 0.1, 0.2, 0, 0, 0, 0.3, 0.2,
            0.6, 0.3, 0.1, 0, 0.2, 0.5, 0.2, 0.3, 0.2, 0.4, 0.2, 0.9, 0.6, 0.2, 0, 0.3,
            0.6, 2.0, 0.4, 0, 0.3, 0.5, 0.2, 0, 0, 0.3, 0.7, 0.2, 0, 0.4, 1.2, 0.3]
prcp_p28 = [0, 0.5, 1.2, 1.4, 1.9, 1.4, 0.3, 0, 4.5, 0.4, 0, 0.4, 1.8, 1.2, 0.7, 0.5,
            0.2, 0.4, 0.1, 0, 0, 0, 0, 0, 0.1, 0, 0, 0.2, 0, 0, 0, 0.1,
            0.2, 0.3, 0.6, 0.2, 0, 0.4, 0.2, 0, 0.3, 0.5, 0.2, 1.4, 0.4, 0, 0.2, 0.6,
            0.3, 0, 0.5, 0.9, 0.2, 0, 0.3, 1.1, 0.4, 0, 0.2, 0.4, 0.7, 0.2, 0, 0.1]
prcp_p29 = [0, 0.9, 1.6, 2.0, 1.4, 1.0, 0.4, 0, 6.0, 0.4, 0, 0.5, 2.7, 1.3, 0.6, 0.4,
            0.6, 0.3, 0, 0, 0, 0, 0, 0, 0, 0, 0.2, 0.1, 0, 0, 0, 0,
            0.2, 0.5, 0.2, 0, 0.1, 0.3, 0.2, 0.5, 0.9, 0.4, 5.5, 0.6, 0.2, 0.4, 0.2, 0,
            0.2, 0.4, 0.3, 0, 0.3, 0.6, 0.2, 0.4, 0.5, 0, 0.2, 0.5, 0.3, 0, 0.3, 0.6]
prcp_p30 = [0, 0.6, 1.0, 2.4, 1.5, 0.8, 0.3, 0, 4.1, 0.3, 0, 0.2, 1.4, 1.2, 0.5, 0.4,
            0.3, 0.1, 0, 0, 0, 0, 0, 0, 0, 0.1, 0, 0, 0, 0.1, 0, 0,
            0.1, 0.3, 0.2, 0.4, 0.1, 0, 0.3, 0.6, 0.2, 0.3, 0.9, 0.4, 0.2, 0.6, 0.3, 0.2,
            0.4, 0.3, 0, 0.2, 0.5, 0.4, 0, 0.2, 0.3, 0.6, 0.2, 0, 0.4, 0.3, 0.9, 7.4]

prcp_control = [0.0, 0.9, 2.0, 2.5, 1.5, 1.0, 0.3, 0.1, 5.3, 0.3, 0.0, 0.5, 4.1, 5.0, 1.7, 1.3,
                1.5, 0.5, 0.2, 0.2, 0.1, 0.1, 0.0, 0.0, 0.1, 0.2, 0.0, 0.0, 0.1, 0.0, 1.1, 0.4,
                2.0, 0.3, 0.1, 0.8, 1.7, 4.3, 2.0, 1.0, 0.8, 2.5, 8.3, 1.5, 4.0, 5.7, 2.5, 0.3,
                0.2, 0.8, 1.5, 9.4, 3.0, 2.0, 3.0, 1.3, 0.6, 0.3, 0.5, 8.5, 6.6, 1.0, 0.3, 0.2]
prcp_oper = [0.0, 0.5, 1.3, 4.4, 0.5, 2.8, 0.3, 0.1, 4.9, 0.3, 0.0, 0.0, 8.8, 3.0, 1.0, 0.1,
             0.0, 0.1, 0.0, 0.0, 0.0, 0.0, 0.1, 0.0, 0.0, 0.1, 0.0, 0.0, 0.0, 0.1, 0.5, 0.2,
             0.4, 3.4, 1.7, 0.1, 0.0, 0.0, 0.2, 0.1, 0.1, 0.8, 7.2, 1.7, 0.5, 0.2, 0.6, 0.4,
             4.2, 0.2, 0.1, 5.4, 1.7, 0.3, 0.1, 0.0, 0.0, 0.1, 0.3, 0.2, 0.0, 0.2, 5.9, 1.7]
prcp_ens_mean = [0.1, 1.1, 1.6, 1.6, 1.3, 1.1, 0.4, 0.3, 3.9, 0.2, 0.2, 0.5, 1.7, 1.3, 0.5, 0.5,
                 0.5, 0.4, 0.3, 0.3, 0.2, 0.1, 0.1, 0.1, 0.2, 0.3, 0.3, 0.3, 0.2, 0.5, 0.3, 0.2,
                 0.6, 0.3, 0.2, 0.6, 0.6, 0.5, 0.3, 0.4, 0.4, 1.1, 1.1, 1.1, 1.1, 0.7, 0.6, 0.5,
                 0.6, 1.1, 0.9, 1.5, 1.4, 0.7, 0.5, 0.4, 0.6, 0.3, 0.5, 0.9, 0.5, 0.8, 0.3, 0.1]

member_names = [f"P{k}" for k in range(1, 31)]
member_colors = ["#0c3cb4", "#0c50c0", "#0c6cc0", "#0c94c4", "#0ca8b4", "#0ca890", "#0ca070",
                 "#0ca048", "#0cb030", "#0cc020", "#c8c000", "#c8b000", "#c09800", "#c08800",
                 "#c07000", "#b05c00", "#b04810", "#a83c18", "#a02c20", "#882020",
                 "#1030e0", "#1058c8", "#1070b8", "#1090c0", "#10a8b0", "#10a088", "#10a068",
                 "#10a048", "#10b030", "#10c020"]

temp_members = [temp_p01, temp_p02, temp_p03, temp_p04, temp_p05, temp_p06, temp_p07, temp_p08,
                temp_p09, temp_p10, temp_p11, temp_p12, temp_p13, temp_p14, temp_p15, temp_p16,
                temp_p17, temp_p18, temp_p19, temp_p20, temp_p21, temp_p22, temp_p23, temp_p24,
                temp_p25, temp_p26, temp_p27, temp_p28, temp_p29, temp_p30]
prcp_members = [prcp_p01, prcp_p02, prcp_p03, prcp_p04, prcp_p05, prcp_p06, prcp_p07, prcp_p08,
                prcp_p09, prcp_p10, prcp_p11, prcp_p12, prcp_p13, prcp_p14, prcp_p15, prcp_p16,
                prcp_p17, prcp_p18, prcp_p19, prcp_p20, prcp_p21, prcp_p22, prcp_p23, prcp_p24,
                prcp_p25, prcp_p26, prcp_p27, prcp_p28, prcp_p29, prcp_p30]

df = pd.DataFrame({
    "day": np.tile(days, len(member_names)),
    "member": np.repeat(member_names, len(days)),
    "temp": np.concatenate(temp_members),
    "prcp": np.concatenate(prcp_members),
})
palette = dict(zip(member_names, member_colors))

CONTROL = "#0a0aff"
OPER = "#10dd10"
MEAN = "white"
CLIM = "#f04040"

fig = plt.figure(figsize=(8.5, 6.2), dpi=100, facecolor="black")
ax = fig.add_axes([163 / 850, 60 / 620, 647 / 850, 530 / 620])
ax.set_facecolor("black")
ax2 = ax.twinx()

# precipitation (right axis)
sns.lineplot(data=df, x="day", y="prcp", hue="member", hue_order=member_names, palette=palette,
             estimator=None, sort=False, lw=0.8, legend=False, ax=ax2)
sns.lineplot(x=days, y=prcp_control, color=CONTROL, lw=2.8, ax=ax2)
sns.lineplot(x=days, y=prcp_oper, color=OPER, lw=2.8, ax=ax2)
sns.lineplot(x=days, y=prcp_ens_mean, color=MEAN, lw=2.6, ax=ax2)

# temperature (left axis)
sns.lineplot(data=df, x="day", y="temp", hue="member", hue_order=member_names, palette=palette,
             estimator=None, sort=False, lw=0.8, legend=False, ax=ax)
sns.lineplot(x=days, y=temp_control, color=CONTROL, lw=2.8, ax=ax)
sns.lineplot(x=days, y=temp_oper, color=OPER, lw=2.8, ax=ax)
sns.lineplot(x=days, y=temp_ens_mean, color=MEAN, lw=2.6, ax=ax)
sns.lineplot(x=days, y=temp_clim, color=CLIM, lw=2.6, ax=ax)

# temperature axis drawn over the precipitation axis
ax.set_zorder(ax2.get_zorder() + 1)
ax.patch.set_visible(False)
ax2.patch.set_facecolor("black")
ax2.patch.set_visible(True)

ax.set_xlim(0, 16.5)
ax.set_ylim(-20, 25)
ax2.set_ylim(0, 40)

ax.set_xticks(np.arange(0, 17, 2))
ax.set_xticklabels(date_labels)
ax.xaxis.set_minor_locator(plt.MultipleLocator(1))
ax.yaxis.set_major_locator(plt.MultipleLocator(5))
ax2.yaxis.set_major_locator(plt.MultipleLocator(10))
ax2.yaxis.set_minor_locator(plt.MultipleLocator(1))

ax.grid(False)
ax2.grid(False)
ax.grid(axis="x", which="both", color="#3c3c3c", linestyle=(0, (4, 4)), lw=0.8)
ax.grid(axis="y", which="major", color="#3c3c3c", linestyle=(0, (4, 4)), lw=0.8)

ax.tick_params(axis="x", which="both", length=0, colors="white", labelsize=7.5, pad=6)
ax.tick_params(axis="y", length=0, colors="white", labelsize=7.5, pad=10)
ax2.tick_params(axis="y", which="both", direction="in", length=4, width=1,
                colors="white", labelsize=7.5, pad=8)

for a in (ax, ax2):
    for s in a.spines.values():
        s.set_color("white")
        s.set_linewidth(1.2)

ax.set_xlabel("Date (UTC)", color="white", fontsize=7.5, labelpad=4)
ax.set_ylabel("850 hPa Temp. (°C)", color="white", fontsize=7.5)
ax.yaxis.set_label_coords((132 - 163) / 647, 0.5)
ax2.set_ylabel("Precipitation (mm)", color="white", fontsize=7.5)
ax2.yaxis.set_label_coords((840 - 163) / 647, 0.5)

fig.text(435 / 850, 1 - 12 / 620, "De Bilt  (NL)  850 hPa Temp. & Precipitation | Fri, 05Dec2025 12Z",
         ha="center", va="center", color="white", fontsize=11.5, fontweight="bold")
fig.text(120 / 850, 1 - 599 / 620, "GFS Ensemble, 52N, 5E", ha="left", va="center",
         color="white", fontsize=11.5)
fig.text(794 / 850, 1 - 599 / 620, "Wetterzentrale.de", ha="right", va="center",
         color="white", fontsize=11.5)

# legend, drawn in two columns at the left margin
def legend_entry(x0, x1, y, color, label, lw=2.0):
    fig.add_artist(Line2D([x0 / 850, x1 / 850], [1 - y / 620, 1 - y / 620], color=color, lw=lw))
    fig.text((x1 + 1) / 850, 1 - y / 620, label, ha="left", va="center", color="white",
             fontsize=7.5)

for k, (name, col) in enumerate(zip(member_names, member_colors)):
    row, column = divmod(k, 2)
    y = 40 + 15 * row
    if column == 0:
        legend_entry(0, 8, y, col, name)
    else:
        legend_entry(53, 63, y, col, name)
legend_entry(0, 8, 265, CONTROL, "Control")
legend_entry(53, 63, 265, MEAN, "Ens. mean")
legend_entry(0, 8, 305, OPER, "Oper")
fig.add_artist(Line2D([53 / 850, 63 / 850], [1 - 293 / 620, 1 - 293 / 620], color=CLIM, lw=2.0))
fig.text(64 / 850, 1 - 287 / 620, "1991-2020\nmean", ha="left", va="top", color="white",
         fontsize=7.5, linespacing=0.95)

fig.savefig("out.png", dpi=100, facecolor="black")
